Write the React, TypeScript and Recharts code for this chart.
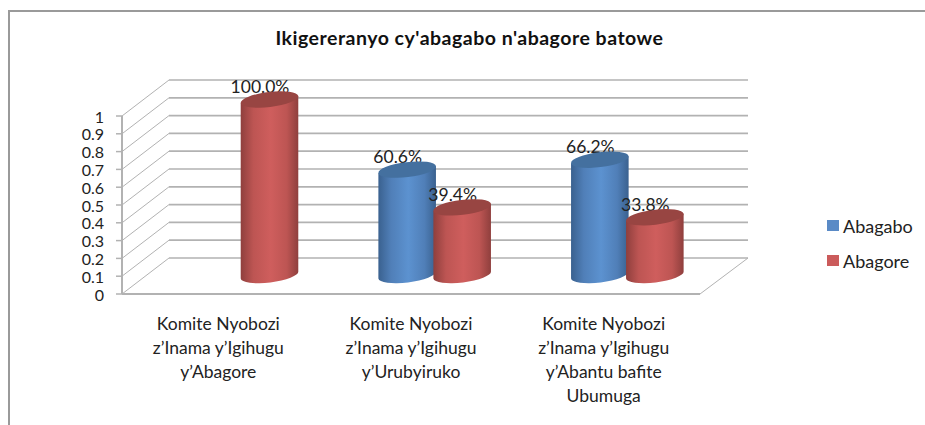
import React from "react";
import { BarChart, Bar, XAxis, YAxis, CartesianGrid, Legend } from "recharts";

const title = "Ikigereranyo cy'abagabo n'abagore batowe";
const categories = [
  "Komite Nyobozi\nz’Inama y’Igihugu\ny’Abagore",
  "Komite Nyobozi\nz’Inama y’Igihugu\ny’Urubyiruko",
  "Komite Nyobozi\nz’Inama y’Igihugu\ny’Abantu bafite\nUbumuga",
];
const abagabo: (number | null)[] = [null, 0.606, 0.662];
const abagore: number[] = [1, 0.394, 0.338];
const yTicks = [0, 0.1, 0.2, 0.3, 0.4, 0.5, 0.6, 0.7, 0.8, 0.9, 1];

const data = categories.map((name, i) => ({ name, Abagabo: abagabo[i], Abagore: abagore[i] }));

const FONT = "Lato, Carlito, sans-serif";
const TEXT = "#222222";
const GRID = "#b2b2b2";
const DEPTH_X = 47;
const DEPTH_Y = 36;
const BAR_DX = 23.5;
const TILT = 7;

const Cylinder = (props: any) => {
  const { x, y, width, height, value, gradient, cap } = props;
  if (value == null) return null;
  const cx = x + width / 2 + BAR_DX;
  const rx = width / 2;
  const ry = 7.5;
  const topY = y - 16.5;
  const baseY = y + height - 19;
  const rad = (TILT * Math.PI) / 180;
  const ox = rx * Math.cos(rad);
  const oy = rx * Math.sin(rad);
  const body = `M${cx - ox},${topY + oy} L${cx - ox},${baseY + oy} A${rx},${ry} ${-TILT} 0 0 ${cx + ox},${baseY - oy} L${cx + ox},${topY - oy} Z`;
  return (
    <g>
      <text x={cx - 9.5} y={topY - 12.5} dy="0.36em" textAnchor="middle" fontFamily={FONT} fontSize={17.5} fill={TEXT}>
        {(value * 100).toFixed(1) + "%"}
      </text>
      <path d={body} fill={`url(#${gradient})`} />
      <ellipse cx={cx} cy={topY} rx={rx} ry={ry} fill={cap} transform={`rotate(${-TILT} ${cx} ${topY})`} />
    </g>
  );
};

const gridLine = (props: any) => {
  const { x1, x2, y1, y, height, key } = props;
  const isFloor = Math.abs(y1 - (y + height)) < 1;
  return (
    <g key={key ?? y1}>
      <line x1={x1} y1={y1} x2={x1 + DEPTH_X} y2={y1 - DEPTH_Y} stroke={GRID} strokeWidth={1} />
      <line x1={x1 + DEPTH_X} y1={y1 - DEPTH_Y} x2={x2 + DEPTH_X + 1} y2={y1 - DEPTH_Y} stroke={GRID} strokeWidth={1.7} />
      {isFloor && <line x1={x2} y1={y1} x2={x2 + DEPTH_X + 1} y2={y1 - DEPTH_Y} stroke={GRID} strokeWidth={1} />}
    </g>
  );
};

const CategoryTick = (props: any) => {
  const { x, y, payload } = props;
  const lines = String(payload.value).split("\n");
  return (
    <text x={x} y={y} textAnchor="middle" fontFamily={FONT} fontSize={17.5} fill={TEXT}>
      {lines.map((l, i) => (
        <tspan key={i} x={x} y={y + 28 + i * 24}>
          {l}
        </tspan>
      ))}
    </text>
  );
};

const ValueTick = (props: any) => {
  const { x, y, payload } = props;
  return (
    <text x={x} y={y + 6.5} textAnchor="end" fontFamily={FONT} fontSize={16} fill={TEXT}>
      {payload.value}
    </text>
  );
};

const LegendContent = (props: any) => (
  <div>
    {(props.payload || []).map((p: any) => (
      <div key={p.value} style={{ display: "flex", alignItems: "center", height: 35, fontFamily: FONT, fontSize: 18, color: TEXT }}>
        <span style={{ width: 12, height: 11, background: p.color, marginRight: 4, display: "inline-block" }} />
        {p.value}
      </div>
    ))}
  </div>
);

const stops = (edge: string, mid: string, light: string) => (
  <>
    <stop offset="0" stopColor={edge} />
    <stop offset="0.22" stopColor={mid} />
    <stop offset="0.52" stopColor={light} />
    <stop offset="0.8" stopColor={mid} />
    <stop offset="1" stopColor={edge} />
  </>
);

export default function App() {
  return (
    <div style={{ position: "fixed", left: 0, top: 0, width: 925, height: 425, overflow: "hidden", background: "#fff" }}>
      <BarChart
        width={925}
        height={425}
        data={data}
        margin={{ top: 116, right: 225, bottom: 91, left: 62 }}
        barSize={58}
        barGap={-3}
      >
        <defs>
          <linearGradient id="blueBody" x1="0" y1="0" x2="1" y2="0">
            {stops("#3a618f", "#507fb8", "#5c92d0")}
          </linearGradient>
          <linearGradient id="redBody" x1="0" y1="0" x2="1" y2="0">
            {stops("#8f3f3d", "#bd5553", "#cf5e5d")}
          </linearGradient>
        </defs>
        <path d="M9,425 L9,11 L925,11" fill="none" stroke="#9a9a9a" strokeWidth={2} />
        <text x={469.5} y={45} textAnchor="middle" fontFamily={FONT} fontSize={19.5} fontWeight={700} letterSpacing={0.5} fill="#111111">
          {title}
        </text>
        <CartesianGrid vertical={false} horizontal={gridLine} />
        <XAxis
          dataKey="name"
          interval={0}
          height={40}
          tickLine={false}
          axisLine={{ stroke: GRID, strokeWidth: 2 }}
          tick={<CategoryTick />}
        />
        <YAxis
          width={60}
          domain={[0, 1]}
          ticks={yTicks}
          interval={0}
          tickSize={6}
          tickMargin={12}
          axisLine={{ stroke: GRID, strokeWidth: 2 }}
          tickLine={{ stroke: GRID, strokeWidth: 1.5 }}
          tick={<ValueTick />}
        />
        <Legend
          layout="vertical"
          align="center"
          verticalAlign="middle"
          wrapperStyle={{ left: 827, top: 208, width: 98 }}
          content={<LegendContent />}
        />
        <Bar
          dataKey="Abagabo"
          fill="#5a8ac6"
          isAnimationActive={false}
          shape={<Cylinder gradient="blueBody" cap="#44709f" />}
        />
        <Bar
          dataKey="Abagore"
          fill="#cb5b5b"
          isAnimationActive={false}
          shape={<Cylinder gradient="redBody" cap="#984542" />}
        />
      </BarChart>
    </div>
  );
}
